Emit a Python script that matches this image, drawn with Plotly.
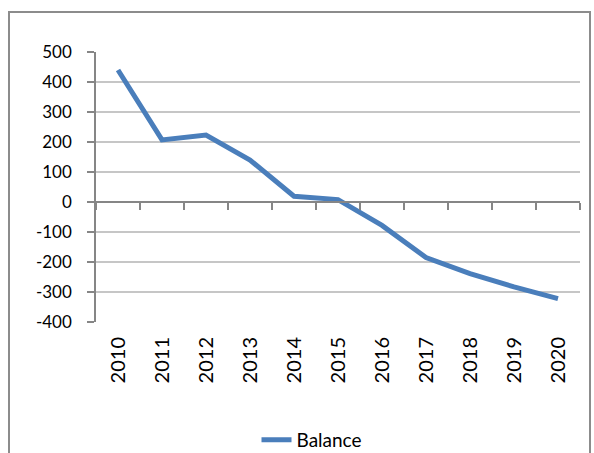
import plotly.graph_objects as go

years = ["2010", "2011", "2012", "2013", "2014", "2015", "2016", "2017", "2018", "2019", "2020"]
balance = [440, 207, 223, 140, 19, 8, -78, -185, -239, -283, -322]
y_ticks = [-400, -300, -200, -100, 0, 100, 200, 300, 400, 500]
y_tick_labels = ["-400", "-300", "-200", "-100", "0", "100", "200", "300", "400", "500"]
series_name = "Balance"

W, H = 594, 453
L, R, T, B = 96, 14, 52, 131
pw, ph = W - L - R, H - T - B

ymin, ymax = -400, 500
zero_frac = (0 - ymin) / (ymax - ymin)
cat_range = [-0.5, len(years) - 0.5]

def px_x(p):
    return (p - L) / pw

def px_y(p):
    return (H - B - p) / ph

fig = go.Figure()
fig.add_trace(go.Scatter(
    x=years, y=balance, mode="lines", name=series_name,
    line=dict(color="#4a7ebb", width=5),
    xaxis="x", yaxis="y",
))
fig.add_trace(go.Scatter(
    x=years, y=balance, mode="lines", showlegend=False, hoverinfo="skip",
    line=dict(width=0, color="rgba(0,0,0,0)"),
    xaxis="x2", yaxis="y",
))

axis_gray = "#868686"
fig.update_layout(
    width=W, height=H,
    margin=dict(l=L, r=R, t=T, b=B, pad=0, autoexpand=False),
    paper_bgcolor="white", plot_bgcolor="white",
    font=dict(family="Lato, Carlito, sans-serif", color="black"),
    showlegend=True,
    legend=dict(orientation="h", x=px_x(312), xanchor="center", y=px_y(440), yanchor="middle",
                font=dict(size=19), bgcolor="rgba(0,0,0,0)"),
    xaxis=dict(type="category", range=cat_range, showgrid=False, showline=False, ticks="",
               tickangle=-90, tickfont=dict(size=20), ticklabelstandoff=10,
               zeroline=False, automargin=False),
    xaxis2=dict(type="category", range=cat_range, overlaying="x", anchor="free", position=zero_frac,
                showline=True, linecolor=axis_gray, linewidth=1.5,
                ticks="outside", tickson="boundaries", ticklen=7, tickcolor=axis_gray,
                tickwidth=1.5, showticklabels=False, showgrid=False, zeroline=False,
                automargin=False),
    yaxis=dict(range=[ymin, ymax], tickvals=y_ticks, ticktext=y_tick_labels, showline=True,
               linecolor=axis_gray, linewidth=1.5, ticks="outside", ticklen=7,
               tickcolor=axis_gray, tickwidth=1.5,
               showgrid=True, gridcolor="#c6c6c6", gridwidth=1.5, zeroline=False,
               tickfont=dict(size=17), ticklabelstandoff=12, automargin=False),
    shapes=[dict(type="rect", xref="paper", yref="paper",
                 x0=px_x(9), x1=px_x(590), y0=px_y(470), y1=px_y(12),
                 line=dict(color="#8c8c8c", width=2), layer="below")],
)

fig.write_html(
    "out.html",
    config={"displayModeBar": False},
    post_script="document.body.style.margin='0';document.body.style.overflow='hidden';",
)
